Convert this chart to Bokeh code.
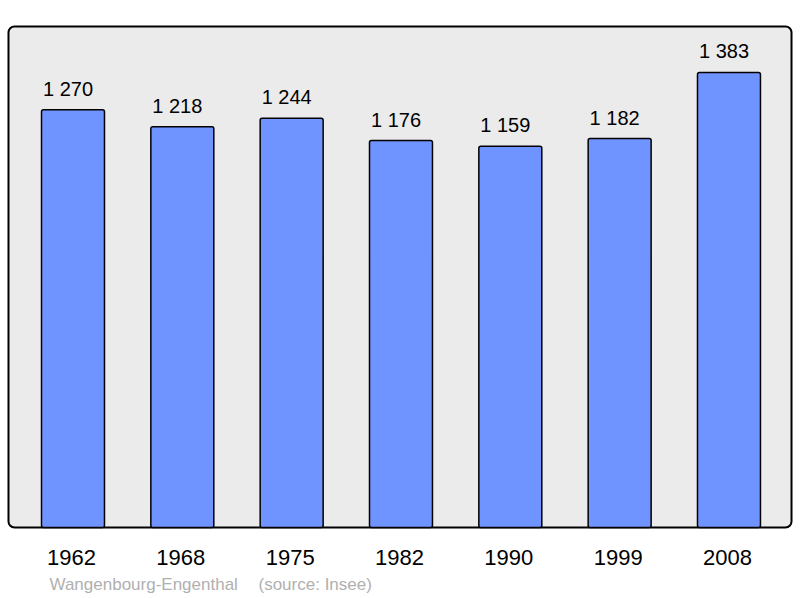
from bokeh.plotting import figure
from bokeh.models import BoxAnnotation, ColumnDataSource
from bokeh.core.properties import value
from bokeh.embed import file_html
from bokeh.resources import INLINE

years = ["1962", "1968", "1975", "1982", "1990", "1999", "2008"]
population = [1270, 1218, 1244, 1176, 1159, 1182, 1383]
labels = ["1 270", "1 218", "1 244", "1 176", "1 159", "1 182", "1 383"]
place = "Wangenbourg-Engenthal"
source_note = "(source: Insee)"

xs = list(range(len(years)))
src = ColumnDataSource(dict(x=xs, top=population, label=labels, year=years,
                            zero=[0] * len(xs)))

FONT = "Liberation Sans"

p = figure(width=798, height=596, output_backend="svg", toolbar_location=None,
           x_range=(-0.6631, 6.6359), y_range=(-209.7, 1601.8),
           min_border_left=0, min_border_right=0, min_border_top=0, min_border_bottom=0)
p.background_fill_color = "white"
p.border_fill_color = "white"
p.outline_line_color = None
p.grid.visible = False
p.axis.visible = False

box = BoxAnnotation(left=-0.590, right=6.572, bottom=0, top=1522.8,
                    fill_color="#ebebeb", fill_alpha=1.0,
                    line_color="black", line_alpha=1.0, line_width=2,
                    border_radius=6, level="underlay")
p.add_layout(box)

p.vbar(x="x", top="top", bottom=0, width=0.576, source=src,
       fill_color="#7094ff", line_color="black", line_width=1.5, border_radius=2)

p.text(x="x", y="top", text="label", source=src, text_align="center",
       text_baseline="alphabetic", x_offset=-5, y_offset=-21,
       text_font=value(FONT), text_font_size="20px", text_color="#000000")

p.text(x="x", y="zero", text="year", source=src, text_align="center",
       text_baseline="alphabetic", x_offset=-1.5, y_offset=30,
       text_font=value(FONT), text_font_size="22px", text_color="#000000")

p.text(x=[0], y=[0], text=[place], text_align="left", text_baseline="alphabetic",
       x_offset=-23.5, y_offset=57, text_font=value(FONT), text_font_size="17px",
       text_color="#b0b0b0")
p.text(x=[0], y=[0], text=[source_note], text_align="left", text_baseline="alphabetic",
       x_offset=185.5, y_offset=57, text_font=value(FONT), text_font_size="17px",
       text_color="#b0b0b0")

open("out.html", "w").write(file_html(p, INLINE))
